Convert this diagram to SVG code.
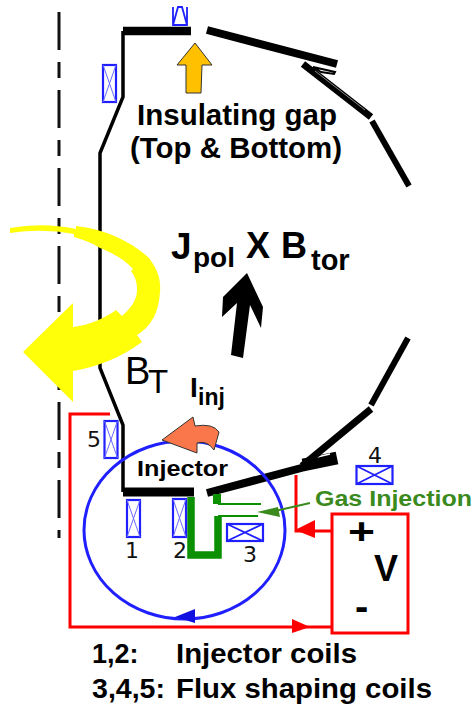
<svg xmlns="http://www.w3.org/2000/svg" width="474" height="706" viewBox="0 0 474 706">
<style>
text{font-family:"Liberation Sans",Arial,sans-serif;fill:#000}
.b{font-weight:700}
.num{font-family:"DejaVu Sans",sans-serif;font-size:22px;fill:#111}
.wall{fill:none;stroke:#000;stroke-linecap:butt;stroke-linejoin:miter}
.coil{fill:#fff;stroke:#1f1fff;stroke-width:2.2}
.x{fill:none;stroke:#6a6aff;stroke-width:1}
.x2{fill:none;stroke:#1f1fff;stroke-width:1.8}
.red{fill:none;stroke:#ff0000;stroke-width:3}
.redf{fill:#ff0000}
.gr{fill:none;stroke:#0a9000}
</style>
<rect width="474" height="706" fill="#fff"/>
<g id="axis"><path d="M59 12V538" fill="none" stroke="#111" stroke-width="3" stroke-dasharray="38 12 16 12"/></g>
<g id="vessel">
<path class="wall" stroke-width="3.500" d="M123 31V97L100 153V368L123 425V492"/>
<path class="wall" stroke-width="8.500" d="M123 31H191"/>
<path class="wall" stroke-width="8" d="M207 30L337 64"/>
<path class="wall" stroke-width="7" d="M303 64L371 117"/>
<path d="M315 71L365 110" fill="none" stroke="#888" stroke-width="1"/>
<path d="M313 67L335 72L334 74L321 72Z" fill="#fff" stroke="#000" stroke-width="2"/>
<path class="wall" stroke-width="6" d="M372 121L409 186"/>
<path class="wall" stroke-width="9" d="M123 492H194"/>
<path class="wall" stroke-width="8" d="M207 493L305 467"/>
<path class="wall" stroke-width="13" d="M303 465L337 458"/>
<path d="M313 458L330 454" fill="none" stroke="#fff" stroke-width="1.500"/>
<path class="wall" stroke-width="7" d="M302 466L371 409"/>
<path class="wall" stroke-width="6" d="M371 405L408 338"/>
</g>
<g id="plasma-loop">
<ellipse cx="184.500" cy="530" rx="100.500" ry="89" fill="none" stroke="#1f1fff" stroke-width="3"/>
<path d="M175 617L195 609V623Z" fill="#1010e0"/>
</g>
<g id="gas-feed">
<path class="gr" stroke-width="7.500" d="M191 497V555H218V516"/>
<path class="gr" stroke-width="2" d="M218 516H258M218 504H261"/>
<path class="gr" stroke-width="8" d="M217 494V504"/>
</g>
<g id="connectors">
<path class="red" d="M110 414H70V627H332"/>
<path class="redf" d="M310 627L292 619V633Z"/>
<path class="red" d="M296 475V531H332"/>
<path class="redf" d="M295 530L315 520V538Z"/>
<path d="M310 503L275 511" fill="none" stroke="#3a8a1e" stroke-width="2"/>
<path d="M257 512L278 507L280 517Z" fill="#3a8a1e"/>
</g>
<g id="coil-top"><path d="M173 7V25H187V7M173 25L178 7L182 7L187 25" class="x2"/></g>
<g id="coil-side"><rect class="coil" x="103" y="65" width="13" height="37"/><path class="x" d="M103 65L116 102M116 65L103 102"/></g>
<g id="coil-5"><rect class="coil" x="104.500" y="421" width="13" height="37"/><path class="x" d="M104.500 421L117.500 458M117.500 421L104.500 458"/><text class="num" x="87" y="447">5</text></g>
<g id="coil-1"><rect class="coil" x="127" y="500" width="13" height="37"/><path class="x" d="M127 500L140 537M140 500L127 537"/><text class="num" x="125" y="558">1</text></g>
<g id="coil-2"><rect class="coil" x="173" y="499" width="13" height="38"/><path class="x" d="M173 499L186 537M186 499L173 537"/><text class="num" x="173" y="558">2</text></g>
<g id="coil-3"><rect class="coil" x="227" y="524" width="36" height="17"/><path class="x2" d="M227 524L263 541M263 524L227 541"/><text class="num" x="243" y="562">3</text></g>
<g id="coil-4"><rect class="coil" x="356.500" y="466" width="36" height="18"/><path class="x2" d="M356.500 466L392.500 484M392.500 466L356.500 484"/><text class="num" x="368" y="463">4</text></g>
<g id="injection-current"><path d="M162 440L193 417L195 426Q213 423 219 432L214 450Q207 440 197 443L197 453Z" fill="#f9774a" stroke="#333" stroke-width="1"/></g>
<g id="toroidal-field"><path fill="#ffff0a" d="M10 228Q43 222 76 229V226C105 229 132 242 149 258C158 270 161 280 160 292C159 305 156 315 152 320C148 327 143 331 137 335L142 342C120 358 97 367 73 371V402L23 352L73 303V327C90 325 105 318 116 310L122 316C131 308 137 300 137 290C137 282 135 276 131 271L133 269C125 260 113 253 100 248C92 243 84 240 74 237V234Q43 228 10 233Z"/></g>
<g id="gap-arrow"><path d="M195 43L212 65H202L201 93H186V65H177Z" fill="#ffc000" stroke="#333" stroke-width="1"/></g>
<g id="force-arrow"><path d="M247 273L263 307L261 328L250 305L243 358L231 355L237 303L222 317L223 297Z" fill="#000"/></g>
<g id="labels">
<text class="b" x="137" y="125" font-size="29" textLength="200" lengthAdjust="spacingAndGlyphs">Insulating gap</text>
<text class="b" x="130" y="158" font-size="29" textLength="212" lengthAdjust="spacingAndGlyphs">(Top &amp; Bottom)</text>
<text class="b" x="171" y="259" font-size="37">J</text>
<text class="b" x="193" y="267" font-size="28">pol</text>
<text class="b" x="246" y="258" font-size="36">X</text>
<text class="b" x="281" y="258" font-size="36">B</text>
<text class="b" x="311" y="270" font-size="29">tor</text>
<text x="125" y="384" font-size="38">B</text>
<text x="148" y="393" font-size="33">T</text>
<text class="b" x="190" y="397" font-size="28">I</text>
<text class="b" x="198" y="405" font-size="23">inj</text>
<text class="b" x="137" y="476" font-size="22" textLength="91" lengthAdjust="spacingAndGlyphs">Injector</text>
<text class="b" x="315" y="506" font-size="22" style="fill:#3a8a1e" textLength="157" lengthAdjust="spacingAndGlyphs">Gas Injection</text>
<text class="b" x="348" y="544" font-size="36" textLength="27" lengthAdjust="spacingAndGlyphs">+</text>
<text class="b" x="374" y="581" font-size="36">V</text>
<text class="b" x="355" y="620" font-size="40">-</text>
<text class="b" x="92" y="663" font-size="27">1,2:</text>
<text class="b" x="176" y="663" font-size="27" textLength="181" lengthAdjust="spacingAndGlyphs">Injector coils</text>
<text class="b" x="92" y="698" font-size="27" textLength="73" lengthAdjust="spacingAndGlyphs">3,4,5:</text>
<text class="b" x="176" y="698" font-size="27" textLength="256" lengthAdjust="spacingAndGlyphs">Flux shaping coils</text>
</g>
<g id="box"><rect class="red" x="332" y="514" width="76" height="119"/></g>
</svg>
